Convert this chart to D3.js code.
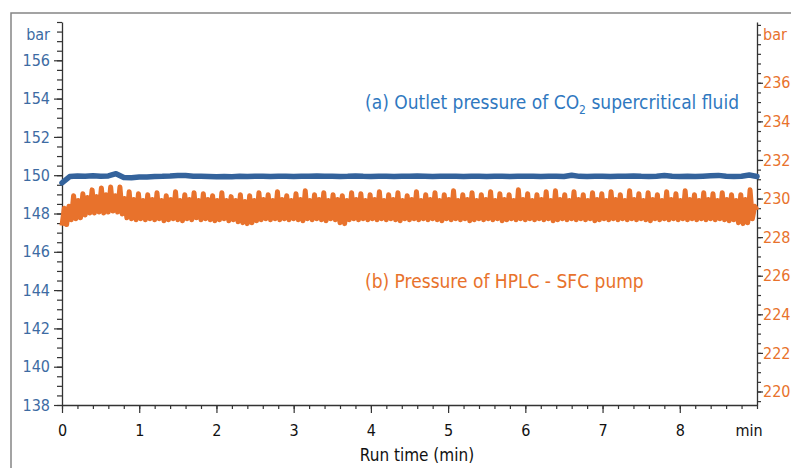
<!DOCTYPE html>
<html>
<head>
<meta charset="utf-8">
<script src="https://cdn.jsdelivr.net/npm/d3@7"></script>
<style>
  body { margin: 0; background: #fff; }
  svg { display: block; }
  .num { font-family: "DejaVu Sans Condensed", "DejaVu Sans", sans-serif; font-stretch: condensed; font-size: 16px; }
  .txt { font-family: "Liberation Sans Narrow", "DejaVu Sans Condensed", sans-serif; font-stretch: condensed; }
</style>
</head>
<body>
<svg id="chart"></svg>
<script>
// Datos
const runTimeTicks = [0, 1, 2, 3, 4, 5, 6, 7, 8];
const leftTicks = [138, 140, 142, 144, 146, 148, 150, 152, 154, 156];
const rightTicks = [220, 222, 224, 226, 228, 230, 232, 234, 236];

// (a) presion de salida CO2, una lectura cada 0.1 min
const co2Step = 0.1;
const co2Outlet = [
  149.6, 149.93, 149.96, 149.95, 149.97, 149.94, 149.96, 150.08, 149.88, 149.87,
  149.9, 149.91, 149.93, 149.94, 149.96, 149.99, 149.98, 149.95, 149.94, 149.93,
  149.92, 149.93, 149.92, 149.94, 149.93, 149.95, 149.94, 149.93, 149.95, 149.94,
  149.93, 149.95, 149.94, 149.96, 149.94, 149.95, 149.93, 149.94, 149.96, 149.94,
  149.93, 149.95, 149.94, 149.93, 149.95, 149.94, 149.96, 149.95, 149.93, 149.94,
  149.95, 149.94, 149.93, 149.95, 149.94, 149.93, 149.95, 149.94, 149.93, 149.94,
  149.95, 149.94, 149.93, 149.94, 149.95, 149.93, 150.0, 149.94, 149.93, 149.95,
  149.94, 149.93, 149.95, 149.94, 149.96, 149.94, 149.93, 149.95, 149.98, 149.94,
  149.93, 149.94, 149.93, 149.95, 149.97, 149.99, 149.94, 149.93, 149.95, 150.01,
  149.93
];

// (b) presion de la bomba HPLC-SFC, una lectura cada 0.03 min
const pumpStep = 0.03;
const pumpPressure = [
  228.6, 229.5, 228.65, 229.6, 228.9, 230.15, 228.95, 229.9, 229.0, 230.25, 229.15, 230.05, 229.25, 230.45, 229.25, 230.1, 229.3, 230.55, 229.25, 230.2,
  229.3, 230.6, 229.35, 230.15, 229.3, 230.6, 229.2, 230.0, 229.0, 230.35, 228.95, 229.95, 228.9, 230.25, 228.95, 229.9, 228.9, 230.2, 228.95, 229.95,
  228.9, 230.3, 228.95, 229.9, 228.85, 230.15, 228.9, 229.95, 228.95, 230.35, 228.9, 229.9, 228.85, 230.2, 228.95, 229.95, 228.9, 230.3, 229.0, 229.9,
  228.9, 230.25, 228.95, 229.95, 228.9, 230.15, 228.85, 229.9, 228.9, 230.3, 228.95, 229.9, 228.85, 230.1, 228.9, 229.9, 228.8, 230.2, 228.75, 229.85,
  228.7, 230.15, 228.75, 229.9, 228.85, 230.3, 228.9, 229.95, 228.95, 230.2, 228.9, 229.9, 228.95, 230.35, 228.9, 229.95, 228.95, 230.15, 228.9, 229.9,
  228.95, 230.25, 228.9, 229.95, 228.85, 230.4, 228.95, 229.9, 228.9, 230.2, 228.95, 229.95, 228.9, 230.3, 228.85, 229.9, 228.95, 230.2, 228.9, 229.95,
  228.75, 230.15, 228.7, 229.9, 228.9, 230.3, 228.95, 229.95, 228.9, 230.25, 228.95, 229.9, 228.9, 230.2, 228.95, 229.95, 228.9, 230.35, 228.95, 229.9,
  228.9, 230.2, 228.95, 229.95, 228.9, 230.3, 228.85, 229.9, 228.95, 230.15, 228.9, 229.95, 228.95, 230.35, 228.9, 229.9, 228.95, 230.2, 228.9, 229.95,
  228.95, 230.3, 228.9, 229.9, 228.85, 230.2, 228.95, 229.95, 228.9, 230.4, 228.95, 229.9, 228.9, 230.2, 228.95, 229.95, 228.85, 230.3, 228.9, 229.9,
  228.95, 230.2, 228.9, 229.95, 228.95, 230.35, 228.9, 229.9, 228.95, 230.25, 228.85, 229.95, 228.9, 230.2, 228.95, 229.9, 228.9, 230.45, 228.95, 229.95,
  228.9, 230.25, 228.95, 229.9, 228.9, 230.2, 228.95, 229.95, 228.9, 230.35, 228.95, 229.9, 228.85, 230.4, 228.9, 229.95, 228.95, 230.2, 228.9, 229.9,
  228.95, 230.35, 228.9, 229.95, 228.95, 230.2, 228.9, 229.9, 228.95, 230.3, 228.85, 229.95, 228.9, 230.25, 228.95, 229.9, 228.9, 230.35, 228.95, 229.95,
  228.9, 230.2, 228.95, 229.9, 228.9, 230.4, 228.95, 229.95, 228.9, 230.25, 228.95, 229.9, 228.9, 230.3, 228.85, 229.95, 228.95, 230.2, 228.9, 229.9,
  228.95, 230.35, 228.9, 229.95, 228.95, 230.25, 228.9, 229.9, 228.95, 230.4, 228.9, 229.95, 228.95, 230.2, 228.9, 229.9, 228.95, 230.3, 228.9, 229.95,
  228.95, 230.25, 228.9, 229.9, 228.95, 230.3, 228.9, 229.95, 228.85, 230.2, 228.9, 229.9, 228.75, 230.2, 228.7, 229.95, 228.75, 230.45, 228.95, 229.6,
  229.4
];

const blueAxis = "#3d6ba3";
const blueLine = "#34639c";
const blueText = "#2f78bf";
const orange = "#e8722c";

const width = 791;
const height = 468;

const svg = d3.select("#chart")
  .attr("width", width)
  .attr("height", height);

// marco gris exterior
svg.append("rect")
  .attr("x", 11).attr("y", 13)
  .attr("width", 820).attr("height", 500)
  .attr("fill", "none")
  .attr("stroke", "#858585")
  .attr("stroke-width", 1.5);

const x = d3.scaleLinear().domain([0, 9]).range([62, 757]);
const yLeft = d3.scaleLinear().domain([138, 158]).range([405, 22]);
const yRight = d3.scaleLinear().domain([219.3, 239.15]).range([405, 22]);

function styleAxis(g) {
  g.selectAll("path.domain").attr("stroke", "#333").attr("stroke-width", 1.3);
  g.selectAll(".tick line").attr("stroke", "#333").attr("stroke-width", 1.2);
}

function styleLabels(color) {
  return g => g.selectAll("text")
    .attr("class", "num")
    .attr("fill", color);
}

// eje izquierdo
svg.append("g")
  .attr("transform", "translate(62,0)")
  .call(d3.axisLeft(yLeft).tickValues(d3.range(138, 158.01, 0.5)).tickSize(5).tickSizeOuter(0).tickFormat(""))
  .call(styleAxis);
svg.append("g")
  .attr("transform", "translate(62,0)")
  .call(d3.axisLeft(yLeft).tickValues(leftTicks).tickSize(8).tickPadding(4))
  .call(styleAxis)
  .call(g => g.select("path.domain").remove())
  .call(styleLabels(blueAxis));

// eje derecho
svg.append("g")
  .attr("transform", "translate(757,0)")
  .call(d3.axisRight(yRight).tickValues(d3.range(219.5, 239.01, 0.5)).tickSize(4).tickSizeOuter(0).tickFormat(""))
  .call(styleAxis);
svg.append("g")
  .attr("transform", "translate(757,0)")
  .call(d3.axisRight(yRight).tickValues(rightTicks).tickSize(6).tickPadding(0))
  .call(styleAxis)
  .call(g => g.select("path.domain").remove())
  .call(styleLabels(orange));

// eje x
svg.append("g")
  .attr("transform", "translate(0,405)")
  .call(d3.axisBottom(x).tickValues(d3.range(0, 9.01, 0.2)).tickSize(4).tickSizeOuter(0).tickFormat(""))
  .call(styleAxis);
const xAxisG = svg.append("g")
  .attr("transform", "translate(0,405)")
  .call(d3.axisBottom(x).tickValues(runTimeTicks).tickSize(8).tickPadding(12).tickFormat(d3.format("d")))
  .call(styleAxis)
  .call(g => g.select("path.domain").remove())
  .call(styleLabels("#111"));

xAxisG.append("text").attr("class", "num")
  .attr("x", 749).attr("y", 20).attr("dy", "0.71em")
  .attr("text-anchor", "middle").attr("fill", "#111")
  .text("min");

svg.append("text").attr("class", "txt")
  .attr("x", 417).attr("y", 461).attr("text-anchor", "middle").attr("fill", "#111")
  .attr("font-size", 17)
  .text("Run time (min)");

svg.append("text").attr("class", "num")
  .attr("x", 50).attr("y", 40).attr("text-anchor", "end").attr("fill", blueAxis)
  .text("bar");
svg.append("text").attr("class", "num")
  .attr("x", 763).attr("y", 40).attr("fill", orange)
  .text("bar");

// lineas
const line = (yScale, step) => d3.line()
  .x((d, i) => x(i * step))
  .y(d => yScale(d));

svg.append("path")
  .datum(pumpPressure)
  .attr("d", line(yRight, pumpStep))
  .attr("fill", "none")
  .attr("stroke", orange)
  .attr("stroke-width", 5)
  .attr("stroke-linejoin", "round");

svg.append("path")
  .datum(co2Outlet)
  .attr("d", line(yLeft, co2Step))
  .attr("fill", "none")
  .attr("stroke", blueLine)
  .attr("stroke-width", 5.5)
  .attr("stroke-linejoin", "round")
  .attr("stroke-linecap", "round");

// anotaciones
const labelA = svg.append("text").attr("class", "txt")
  .attr("x", 365).attr("y", 109).attr("fill", blueText).attr("font-size", 19);
labelA.append("tspan").text("(a) Outlet pressure of CO");
labelA.append("tspan").attr("font-size", 12).attr("dy", 5).text("2");
labelA.append("tspan").attr("dy", -5).text(" supercritical fluid");

svg.append("text").attr("class", "txt")
  .attr("x", 365).attr("y", 288).attr("fill", orange).attr("font-size", 19)
  .text("(b) Pressure of HPLC - SFC pump");
</script>
</body>
</html>
